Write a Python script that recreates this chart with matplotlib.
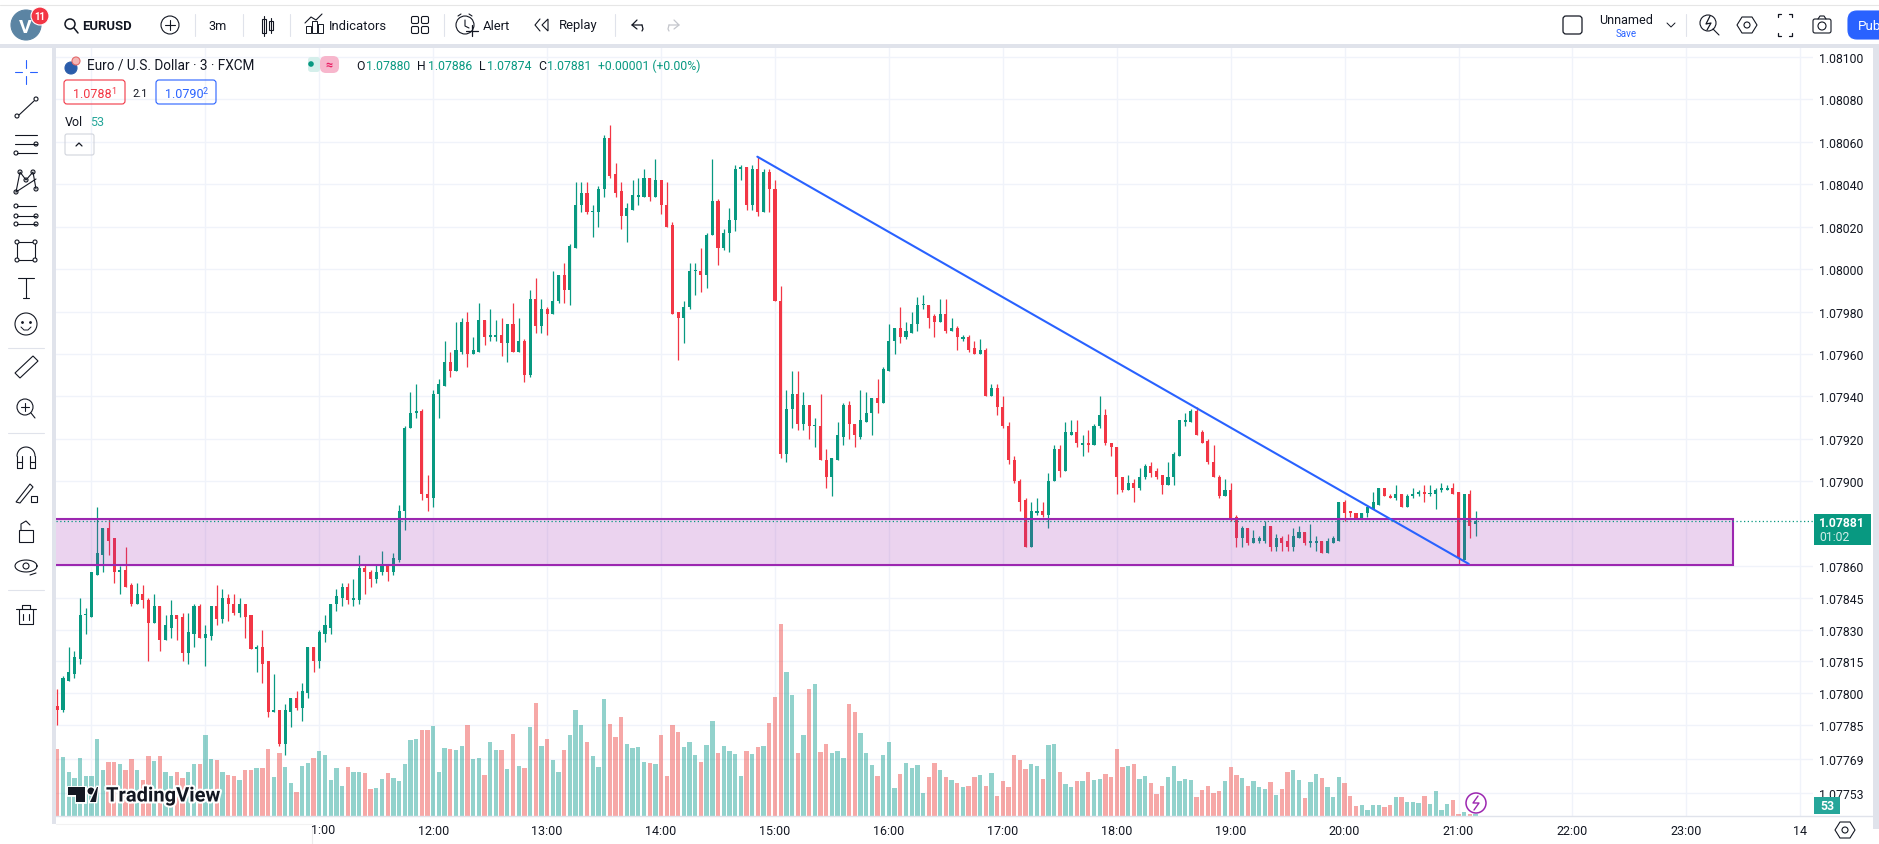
import numpy as np
import matplotlib
matplotlib.use("Agg")
import matplotlib.pyplot as plt
import matplotlib.patheffects as pe
from matplotlib.patches import Rectangle, Circle, FancyBboxPatch, Polygon

plt.rcParams['font.family'] = ['Roboto', 'DejaVu Sans']

# --- datos: EURUSD 3m, puntos sobre 1.07000 ---
opens = [794,792,806,809,816,837,836,856,865,878,
    873,857,858,851,842,847,844,833,841,825,
    831,837,836,819,828,841,826,827,841,835,
    845,842,838,842,837,821,822,815,791,792,
    776,791,798,793,800,822,815,828,831,842,
    845,850,844,844,859,857,854,857,860,857,
    863,886,925,932,933,894,892,941,945,956,
    952,961,975,960,961,976,968,968,969,965,
    974,961,966,950,986,973,981,979,985,997,
    990,1010,1030,1036,1027,1027,1038,1062,1045,1037,
    1025,1028,1034,1034,1043,1034,1042,1030,1021,980,
    977,982,999,999,997,1016,1032,1010,1017,1023,
    1047,1048,1030,1047,1027,1046,1038,985,913,934,
    941,927,936,926,926,910,902,910,921,936,
    927,921,928,932,939,937,952,966,972,968,
    970,974,983,983,978,975,979,971,972,967,
    968,963,960,962,940,944,935,926,910,900,
    891,869,885,886,884,900,915,905,922,923,
    917,918,917,926,931,918,916,902,896,899,
    897,902,907,905,903,898,902,912,928,928,
    933,923,919,909,902,893,896,883,873,878,
    871,872,872,879,869,873,872,869,873,876,
    871,871,872,866,871,872,890,886,885,882,
    885,887,889,897,893,892,894,888,893,894,
    895,894,894,896,896,897,895,863,894,880]
highs = [802,808,822,820,845,840,857,888,878,882,
    873,860,869,852,852,851,845,847,841,837,
    844,837,838,838,842,842,832,841,851,849,
    847,847,845,842,837,823,830,815,809,792,
    795,798,801,805,822,822,830,837,842,849,
    852,852,854,865,861,858,861,867,861,866,
    889,926,942,946,934,903,943,948,966,961,
    975,977,980,968,984,976,981,976,977,974,
    984,977,967,990,996,986,982,999,997,1003,
    1012,1041,1041,1041,1030,1039,1063,1068,1050,1041,
    1031,1042,1043,1047,1043,1052,1042,1041,1022,980,
    985,1003,1003,1010,1017,1052,1033,1019,1029,1049,
    1049,1048,1049,1053,1047,1047,1042,992,943,952,
    952,942,936,930,941,915,911,928,937,938,
    927,943,942,939,948,954,974,972,982,975,
    980,987,988,983,979,986,986,977,973,969,
    969,966,967,963,946,946,940,928,912,901,
    892,890,892,890,904,917,917,928,929,929,
    922,924,927,940,934,918,916,902,903,901,
    906,908,909,906,903,909,914,929,932,934,
    935,924,920,917,903,901,899,884,879,878,
    877,874,881,879,875,874,875,878,879,876,
    880,874,872,873,874,890,891,886,885,885,
    889,895,897,897,894,898,894,894,897,896,
    898,898,897,899,898,899,895,894,896,886]
lows = [785,791,806,807,814,828,836,856,857,865,
    852,847,850,841,842,840,815,833,820,825,
    826,825,815,814,822,826,813,825,832,833,
    834,837,836,826,821,810,805,789,791,775,
    771,784,792,787,798,810,812,824,828,839,
    841,842,841,842,847,850,852,856,853,856,
    862,877,925,930,891,886,888,930,945,949,
    952,960,954,960,961,964,966,966,959,956,
    961,961,947,949,970,970,969,979,984,984,
    983,1010,1027,1026,1015,1020,1034,1043,1034,1019,
    1013,1028,1030,1034,1032,1034,1026,1020,979,957,
    965,981,988,989,991,1016,1002,1009,1008,1018,
    1042,1028,1028,1025,1027,1027,985,911,909,925,
    924,924,920,916,910,897,893,910,917,920,
    916,920,928,922,932,937,952,960,965,967,
    970,971,981,972,968,975,970,971,962,966,
    961,960,960,940,940,931,925,908,899,886,
    869,869,884,883,878,900,902,905,922,916,
    912,914,917,925,917,912,894,895,896,890,
    896,901,902,901,894,898,898,912,926,928,
    922,918,908,902,892,893,881,869,869,870,
    871,871,871,867,867,867,867,867,873,870,
    869,867,866,866,871,872,881,883,882,882,
    883,887,889,893,892,891,888,888,892,893,
    890,893,887,895,896,894,861,863,873,874]
closes = [792,807,810,817,837,837,857,866,878,872,
    857,858,850,842,847,844,833,841,825,832,
    837,835,819,829,841,826,828,841,835,845,
    842,838,842,836,821,822,814,791,792,776,
    792,798,793,801,822,815,829,832,842,846,
    850,844,845,859,857,854,857,860,857,864,
    886,925,932,933,894,892,941,946,956,952,
    962,975,960,962,976,968,969,969,965,974,
    961,966,950,986,973,981,979,985,997,990,
    1011,1030,1036,1027,1027,1038,1062,1044,1036,1025,
    1029,1035,1035,1043,1034,1042,1030,1020,979,977,
    982,999,999,997,1016,1032,1010,1017,1023,1047,
    1048,1030,1047,1027,1046,1038,985,913,934,941,
    927,936,926,926,910,902,911,922,936,927,
    922,929,932,939,937,953,966,972,968,971,
    974,983,983,977,975,979,971,972,968,968,
    962,960,962,940,944,935,926,910,900,890,
    869,886,886,884,900,915,905,923,923,918,
    918,917,926,931,918,916,902,896,899,897,
    902,907,904,902,898,902,913,929,929,933,
    922,918,909,902,893,896,882,873,878,871,
    873,873,879,869,873,871,869,874,876,871,
    872,872,866,872,873,890,885,885,882,885,
    888,890,897,893,892,894,888,893,894,895,
    894,894,896,897,897,894,864,894,879,881]
volumes = [2010,1770,1320,1140,1740,1200,1200,2310,1380,1620,
    1620,1560,1380,1710,1380,1080,1800,1650,1800,1320,
    1200,1320,1140,1320,1560,1560,2430,1710,1680,1320,
    1230,1200,1080,1380,1380,1440,1440,2010,1170,1890,
    1470,990,720,1500,1590,1740,1950,1830,1080,1440,
    900,1470,1320,1320,1290,810,840,1110,1290,1140,
    1050,1560,2280,2310,2580,2580,2700,1320,2040,2010,
    1980,2100,2730,1710,1740,1230,2220,1980,1980,1410,
    2460,1500,1440,2670,3390,2100,2310,1680,1320,1980,
    2430,3180,2730,2220,1800,1470,3510,2760,2370,2970,
    2160,2040,2070,1620,1590,1560,2430,1200,2730,2520,
    2070,2220,1830,1620,2130,2850,1890,2100,1950,1860,
    1200,1950,1860,2070,2100,2790,3570,5760,4320,3630,
    1890,2430,3810,3960,1920,2160,1890,1950,1740,3360,
    3120,2490,1890,1530,1200,1830,2220,840,1260,1590,
    1440,1530,690,1170,1590,1380,1170,1080,990,870,
    900,1170,1230,900,1290,600,1050,870,1830,1680,
    1410,1560,1500,1110,2130,2160,1320,960,870,1050,
    1050,1320,1080,1110,1260,1170,2010,1470,1500,1560,
    1110,1200,990,660,900,1170,1500,1050,1110,1080,
    570,780,900,690,750,1050,1470,1230,1140,900,
    1050,870,810,1020,630,810,1320,1380,1080,540,
    1020,1260,1140,870,570,1170,990,600,300,330,
    180,330,330,270,330,570,570,420,420,390,
    600,360,750,180,360,480,60,120,60,53]

price_ticks = [1.08100,1.08080,1.08060,1.08040,1.08020,1.08000,1.07980,1.07960,1.07940,
    1.07920,1.07900,1.07860,1.07845,1.07830,1.07815,1.07800,1.07785,1.07769,1.07753]
hour_labels = ['', '', '', '12:00','13:00','14:00','15:00','16:00','17:00','18:00',
    '19:00','20:00','21:00','22:00','23:00','14']
hour_bars = [6,26,46,66,86,106,126,146,166,186,206,226,246,266,286,306]

# dibujos: zona de soporte y linea de tendencia
zone_top, zone_bottom = 1.07882, 1.078605
zone_start, zone_end = -8, 294.2
trend_bars = [122.9, 247.8]
trend_prices = [1.08053, 1.07861]
last_close = 1.07881

W, H = 1879, 845
UP, DOWN = '#089981', '#f23645'
VOL_UP, VOL_DOWN = '#26a69a', '#ef5350'
GRID = '#f0f3fa'
BAND = '#e0e3eb'
INK = '#131722'
PURPLE = '#9c27b0'
BLUE = '#2962ff'

opens = 1.07 + np.array(opens) * 1e-5
highs = 1.07 + np.array(highs) * 1e-5
lows = 1.07 + np.array(lows) * 1e-5
closes = 1.07 + np.array(closes) * 1e-5
bars = np.arange(len(opens))
rising = closes >= opens

fig = plt.figure(figsize=(W / 100, H / 100), dpi=100, facecolor='white')

# Area del grafico en pixeles
left, right, top, bottom = 56, 1813, 49, 817
rect = [left / W, 1 - bottom / H, (right - left) / W, (bottom - top) / H]
x_lim = ((left - 57.3) / 5.696, (right - 57.3) / 5.696)
y_lim = (1.08100 - (bottom - 58) / 212100, 1.08100 + (58 - top) / 212100)

# rejilla y ejes
ax = fig.add_axes(rect, zorder=0)
ax.set_xlim(x_lim)
ax.set_ylim(y_lim)
ax.set_xticks(hour_bars)
ax.set_xticklabels(hour_labels, fontsize=9, color=INK)
ax.yaxis.tick_right()
ax.set_yticks(price_ticks)
ax.set_yticklabels([f'{p:.5f}' for p in price_ticks], fontsize=8.8, color=INK)
ax.tick_params(length=0)
ax.tick_params(axis='y', pad=4.5)
ax.tick_params(axis='x', pad=6)
ax.grid(True, color=GRID, lw=1.0)
ax.set_axisbelow(True)
for s in ax.spines.values():
    s.set_visible(False)

# volumen
ax_vol = fig.add_axes(rect, zorder=1)
ax_vol.patch.set_visible(False)
ax_vol.set_axis_off()
ax_vol.set_xlim(x_lim)
ax_vol.set_ylim(0, (bottom - top) * 30)
ax_vol.bar(bars, volumes, width=0.76, linewidth=0, alpha=0.5,
           color=[VOL_UP if r else VOL_DOWN for r in rising])

# velas
ax_px = fig.add_axes(rect, zorder=2)
ax_px.patch.set_visible(False)
ax_px.set_axis_off()
ax_px.set_xlim(x_lim)
ax_px.set_ylim(y_lim)
colores = [UP if r else DOWN for r in rising]
ax_px.vlines(bars, lows, highs, colors=colores, lw=0.9, zorder=2)
ax_px.bar(bars, np.maximum(np.abs(closes - opens), 0.6e-5), bottom=np.minimum(opens, closes),
          width=0.54, color=colores, linewidth=0, zorder=3)

# zona morada, linea de tendencia y precio actual
ax_px.add_patch(Rectangle((zone_start, zone_bottom), zone_end - zone_start, zone_top - zone_bottom,
                          facecolor=PURPLE, alpha=0.2, linewidth=0, zorder=4))
ax_px.add_patch(Rectangle((zone_start, zone_bottom), zone_end - zone_start, zone_top - zone_bottom,
                          facecolor='none', edgecolor=PURPLE, linewidth=1.5, zorder=5))
ax_px.plot(trend_bars, trend_prices, color=BLUE, lw=1.5, zorder=6, solid_capstyle='round')
ax_px.axhline(last_close, color=UP, lw=0.9, ls=(0, (1, 2)), zorder=6)

# --- interfaz de TradingView, en pixeles ---
ui = fig.add_axes([0, 0, 1, 1], zorder=5)
ui.patch.set_visible(False)
ui.set_axis_off()
ui.set_xlim(0, W)
ui.set_ylim(H, 0)


def line(xs, ys, color=INK, lw=0.8):
    ui.plot(xs, ys, color=color, lw=lw, solid_capstyle='round')


def ring(x, y, r, color=INK, lw=0.8, fill='none'):
    ui.add_patch(Circle((x, y), r, facecolor=fill, edgecolor=color, lw=lw))


def label(x, y, s, color=INK, size=9.2, ha='left', **kw):
    return ui.text(x, y, s, color=color, fontsize=size, ha=ha, va='center', **kw)


def box(x0, y0, x1, y1, fc='none', ec=INK, lw=0.8, r=2):
    ui.add_patch(FancyBboxPatch((x0 + r, y0 + r), x1 - x0 - 2 * r, y1 - y0 - 2 * r,
                                boxstyle=f'round,pad={r},rounding_size={r}',
                                facecolor=fc, edgecolor=ec, lw=lw))


# bandas de separacion
ui.add_patch(Rectangle((0, 0), W, 6, facecolor='white', lw=0))
line([0, W], [6, 6], color='#e6e6e6', lw=0.8)
ui.add_patch(Rectangle((0, 45), W, 4, facecolor=BAND, lw=0))
ui.add_patch(Rectangle((52, 45), 4, 780, facecolor=BAND, lw=0))
ui.add_patch(Rectangle((1873, 45), 6, 785, facecolor=BAND, lw=0))
line([56, 1873], [817, 817], color=BAND, lw=1.0)
ui.add_patch(Rectangle((0, 826), 312, 19, facecolor='white', lw=0))
line([312.5, 312.5], [827, 845], color='#ececec', lw=0.8)
line([56, 312], [825, 825], color='#f2f2f2', lw=0.8)
label(323, 831, '1:00', ha='center', size=9)

# barra superior
ring(26, 26, 15, color='#5b84a3', fill='#5b84a3')
label(25, 28, 'V', color='white', size=14, ha='center', fontweight='bold')
ring(40, 17, 9, color='white', fill='#f23645', lw=0.8)
label(40, 17, '11', color='white', size=7, ha='center', fontweight='bold')
ring(70, 25, 5, lw=1.1)
line([74, 78], [29, 34], lw=1.1)
label(82, 26, 'EURUSD', size=9.4, fontweight='bold')
ring(170, 26, 9)
line([165, 175], [26, 26])
line([170, 170], [21, 31])
label(218, 26, '3m', ha='center')
for x in (195, 243, 290, 444, 615, 1686):
    line([x, x], [15, 37], color=BAND, lw=0.8)
# velas del menu
ui.add_patch(Rectangle((262, 20), 4, 14, fc='white', ec=INK, lw=0.8))
ui.add_patch(Rectangle((269, 22), 4, 9, fc='white', ec=INK, lw=0.8))
line([264, 264], [17, 37])
line([271, 271], [19, 34])
# indicadores
for x, h in ((306, 7), (312, 12), (318, 9)):
    ui.add_patch(Rectangle((x, 34 - h), 5, h, fc='none', ec=INK, lw=0.7))
line([305, 311, 316, 322], [24, 18, 21, 15])
label(329, 26, 'Indicators', size=9.4)
for x in (415, 425):
    for y in (21, 31):
        box(x - 3.5, y - 3.5, x + 3.5, y + 3.5, lw=0.8, r=1.5)
# alerta
ring(465, 26, 9)
line([465, 465, 469], [21, 27, 29])
line([458, 461], [17, 15])
line([472, 469], [17, 15])
line([466, 478], [32, 32], lw=0.9)
line([472, 472], [26, 37], lw=0.9)
label(483, 26, 'Alert', size=9.4)
# replay
line([540, 535, 540], [20, 26, 32])
ui.add_patch(Polygon([[548, 20], [542, 26], [548, 32]], closed=True, fc='none', ec=INK, lw=0.8))
label(559, 26, 'Replay', size=9.4)
line([642, 632, 637], [26, 26, 21], lw=0.9)
line([632, 637], [26, 30], lw=0.9)
line([642, 643, 642], [26, 30, 32], lw=0.9)
line([669, 679, 674], [26, 26, 21], color='#c4c6cc', lw=0.9)
line([679, 674], [26, 30], color='#c4c6cc', lw=0.9)
line([669, 668, 669], [26, 30, 32], color='#c4c6cc', lw=0.9)

# lado derecho de la barra
box(1563, 17, 1582, 35, lw=0.9, r=3)
label(1626, 21, 'Unnamed', ha='center', size=9)
label(1626, 34, 'Save', ha='center', color=BLUE, size=7)
line([1667, 1671, 1675], [24, 28, 24], lw=0.7)
ring(1708, 24, 8)
line([1713, 1719], [30, 36])
line([1710, 1706, 1711, 1707], [17, 25, 24, 31], lw=0.9)
for cx, cy in ((1747, 26), (1845, 831)):
    ui.add_patch(Polygon([[cx - 10, cy], [cx - 5, cy - 8], [cx + 5, cy - 8], [cx + 10, cy],
                          [cx + 5, cy + 8], [cx - 5, cy + 8]], closed=True, fc='none', ec=INK, lw=0.8))
    ring(cx, cy, 3)
for sx, sy in ((-1, -1), (1, -1), (-1, 1), (1, 1)):
    cx, cy = 1785 + sx * 7, 26 + sy * 11
    line([cx, cx - sx * 0, cx - sx * 3], [cy - sy * 3, cy, cy], lw=0.9)
box(1813, 20, 1831, 34, lw=0.8, r=2)
ring(1822, 27, 4)
line([1818, 1820, 1824, 1826], [20, 17, 17, 20])
box(1848, 12, 1900, 40, fc=BLUE, ec=BLUE, r=9)
label(1858, 26, 'Pub', color='white', size=9.6)

# barra izquierda
tool_y = [73, 109, 145, 181, 217, 253, 289, 325, 368, 408, 459, 495, 534, 567, 616]
cy = tool_y[0]
line([15, 22], [cy, cy], color=BLUE)
line([30, 37], [cy, cy], color=BLUE)
line([26, 26], [cy - 12, cy - 4], color=BLUE)
line([26, 26], [cy + 4, cy + 12], color=BLUE)
cy = tool_y[1]
line([19, 34], [cy + 7, cy - 7])
ring(17, cy + 8, 2)
ring(36, cy - 9, 2)
cy = tool_y[2]
for dy, x0 in ((-9, 15), (0, 15), (9, 17)):
    line([x0, 37], [cy + dy, cy + dy])
ring(36, cy, 2)
ring(16, cy + 9, 2)
cy = tool_y[3]
pts = [(16, cy + 12), (20, cy - 8), (26, cy), (33, cy - 8), (36, cy + 9)]
line([p[0] for p in pts], [p[1] for p in pts])
line([16, 36], [cy + 12, cy - 1])
for p in pts:
    ring(p[0], p[1], 2)
cy = tool_y[4]
for dy in (-10, 0, 8):
    line([17, 36], [cy + dy, cy + dy])
    ring(16, cy + dy, 2)
ring(36, cy, 2)
ring(36, cy + 8, 2)
cy = tool_y[5]
ui.add_patch(Rectangle((17, cy - 10), 18, 18, fc='none', ec=INK, lw=0.8))
for px, py in ((17, cy - 10), (35, cy - 10), (17, cy + 8), (35, cy + 8)):
    ring(px, py, 2, fill='white')
cy = tool_y[6]
line([26, 26], [cy - 10, cy + 10])
line([18, 34], [cy - 10, cy - 10])
line([23, 29], [cy + 10, cy + 10])
cy = tool_y[7]
ring(26, cy, 11)
ui.plot([22, 30], [cy - 2, cy - 2], ls='none', marker='.', ms=2, color=INK)
line([21, 24, 28, 31], [cy + 3, cy + 6, cy + 6, cy + 3], lw=0.7)
for y in (349, 434, 591):
    line([8, 44], [y, y], color=BAND)
cy = tool_y[8]
ui.add_patch(Polygon([[15, cy + 6], [33, cy - 11], [38, cy - 6], [20, cy + 11]], closed=True,
                     fc='none', ec=INK, lw=0.8))
cy = tool_y[9]
ring(25, cy, 8)
line([21, 29], [cy, cy])
line([25, 25], [cy - 4, cy + 4])
line([31, 35], [cy + 6, cy + 11])
cy = tool_y[10]
ui.plot(26 + 9 * np.cos(np.linspace(np.pi, 2 * np.pi, 20)),
        cy - 2 + 9 * np.sin(np.linspace(np.pi, 2 * np.pi, 20)), color=INK, lw=0.8)
line([17, 17, 22, 22], [cy - 2, cy + 10, cy + 10, cy - 2])
line([30, 30, 35, 35], [cy - 2, cy + 10, cy + 10, cy - 2])
line([17, 22], [cy + 4, cy + 4])
line([30, 35], [cy + 4, cy + 4])
cy = tool_y[11]
ui.add_patch(Polygon([[16, cy + 8], [30, cy - 10], [33, cy - 7], [20, cy + 9]], closed=True,
                     fc='none', ec=INK, lw=0.8))
ui.add_patch(Rectangle((31, cy + 2), 6, 6, fc='white', ec=INK, lw=0.8))
cy = tool_y[12]
ui.add_patch(Rectangle((19, cy - 3), 14, 12, fc='none', ec=INK, lw=0.8))
line([21, 21, 26, 30], [cy - 3, cy - 9, cy - 12, cy - 8])
cy = tool_y[13]
ui.plot(26 + 11 * np.cos(np.linspace(0, 2 * np.pi, 30)),
        cy + 6 * np.sin(np.linspace(0, 2 * np.pi, 30)), color=INK, lw=0.8)
ring(26, cy, 3)
line([30, 36], [cy + 9, cy + 7])
cy = tool_y[14]
line([19, 19, 33, 33], [cy - 6, cy + 9, cy + 9, cy - 6])
line([16, 36], [cy - 6, cy - 6])
line([22, 22, 30, 30], [cy - 6, cy - 10, cy - 10, cy - 6])
line([23, 23], [cy - 1, cy + 5])
line([29, 29], [cy - 1, cy + 5])

# leyenda
ring(71, 69, 6, color='#2a5caa', fill='#2a5caa')
ring(76, 62, 4, color='#e46a6a', fill='#f3b6b6')
label(87, 66, 'Euro / U.S. Dollar · 3 · FXCM', size=9.8)
ui.add_patch(FancyBboxPatch((308, 58), 12, 15, boxstyle='round,pad=0,rounding_size=3',
                            fc='#d5efeb', ec='none'))
ui.add_patch(Circle((311, 65), 2.8, fc=UP, ec='none'))
ui.add_patch(FancyBboxPatch((320, 57), 19, 17, boxstyle='round,pad=0,rounding_size=6',
                            fc='#f7b6cc', ec='none'))
label(329, 65, '≈', color='#e91e63', size=9, ha='center', fontweight='bold')
for x, letter, x2, value in ((356, 'O', 366, '1.07880'), (417, 'H', 428, '1.07886'),
                             (479, 'L', 487, '1.07874'), (538, 'C', 547, '1.07881')):
    label(x, 66, letter, size=8.8)
    label(x2, 66, value, color=UP, size=8.8)
label(598, 66, '+0.00001 (+0.00%)', color=UP, size=8.8)

box(64, 81, 125, 105, ec=DOWN, lw=0.8, r=3)
label(73, 94, '1.0788', color=DOWN, size=9)
label(111, 91, '1', color=DOWN, size=6.5)
label(140, 94, '2.1', ha='center', size=8)
box(156, 81, 216, 105, ec=BLUE, lw=0.8, r=3)
label(165, 94, '1.0790', color=BLUE, size=9)
label(203, 91, '2', color=BLUE, size=6.5)
label(65, 122, 'Vol', size=9)
label(90, 122, '53', color=VOL_UP, size=9)
box(65, 135, 94, 156, ec='#d1d4dc', lw=0.8, r=2)
line([76, 79, 82], [147, 144, 147], lw=0.9)

# logo
halo = [pe.withStroke(linewidth=3, foreground='white')]
logo1 = ui.add_patch(Polygon([[68, 788], [85, 788], [85, 803], [76, 803], [76, 796], [68, 796]],
                             closed=True, fc=INK, ec='none'))
logo2 = ui.add_patch(Circle((91, 792), 3.5, fc=INK, ec='none'))
logo3 = ui.add_patch(Polygon([[90, 803], [97, 788], [98, 788], [98, 788], [91, 803]][:4] + [[96, 803]],
                             closed=True, fc=INK, ec='none'))
for p in (logo1, logo2, logo3):
    p.set_path_effects([pe.withStroke(linewidth=2, foreground='white')])
label(106, 797, 'TradingView', size=14.5, fontweight='bold', path_effects=halo)

# rayo del final
ring(1476, 804, 10, color=PURPLE, lw=1.1, fill='white')
line([1478, 1473, 1479, 1474], [797, 804, 804, 811], color=PURPLE, lw=1.0)

# etiquetas del eje de precios
ui.add_patch(Rectangle((1814, 515), 57, 31, fc=UP, ec='none'))
label(1819, 524, '1.07881', color='white', size=8.8, fontweight='bold')
label(1819, 538, '01:02', color='#d3eee9', size=8.8)
ui.add_patch(Rectangle((1814, 798), 26, 17, fc=VOL_UP, ec='none'))
label(1827, 807, '53', color='white', size=8.8, ha='center', fontweight='bold')

fig.savefig('out.png', dpi=100)
